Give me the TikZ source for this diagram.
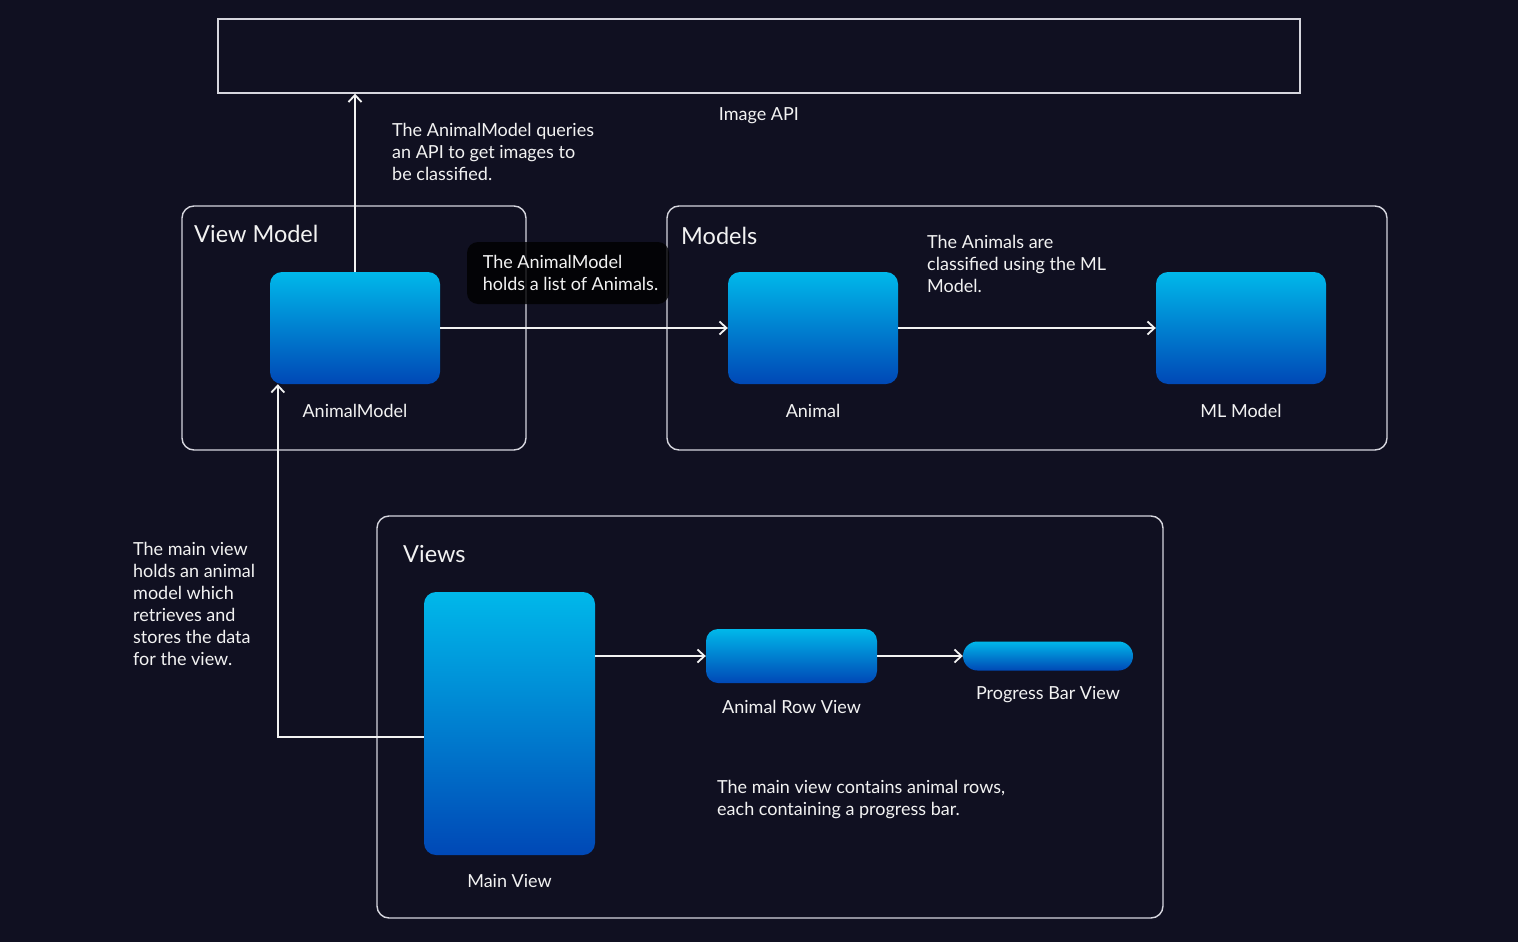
\documentclass[tikz,border=0pt]{standalone}
\usepackage{fontspec}
\setmainfont{Lato}
\usetikzlibrary{arrows.meta,calc}
\definecolor{bg}{HTML}{101021}
\definecolor{ctop}{HTML}{00B8EA}
\definecolor{cbot}{HTML}{0048B6}
\definecolor{edge}{HTML}{D6D6DE}
\definecolor{txt}{HTML}{F2F2F2}
\begin{document}
\begin{tikzpicture}[x=1pt,y=-1pt,
  container/.style={draw=edge,line width=1.4pt,rounded corners=12pt,inner sep=0pt},
  plainbox/.style={draw=edge,line width=1.4pt,inner sep=0pt},
  bluebox/.style={rounded corners=12pt,top color=ctop,bottom color=cbot,draw=none,inner sep=0pt},
  arr/.style={draw=txt,line width=1.8pt,-{Straight Barb[length=7pt,width=13pt]}},
  title/.style={text=txt,font=\fontsize{23.5}{28}\selectfont,anchor=base west,inner sep=0pt},
  lbl/.style={text=txt,font=\fontsize{18}{22}\selectfont,anchor=base,inner sep=0pt},
  note/.style={text=txt,font=\fontsize{18}{22}\selectfont,anchor=north west,align=left,inner sep=0pt},
  tipbox/.style={fill=black,fill opacity=0.8,text opacity=1,text=txt,rounded corners=11pt,
    font=\fontsize{18}{22}\selectfont,align=left,inner sep=0pt}
]
\fill[bg] (0,0) rectangle (1518,942);
\useasboundingbox (0,0) rectangle (1518,942);

% containers
\node[plainbox,minimum width=1082,minimum height=74] (api) at (759,56) {};
\node[lbl] (apil) at (759,120) {Image API};
\node[container,minimum width=344,minimum height=244] (vm) at (354,328) {};
\node[title] (vmt) at (194,242) {View Model};
\node[container,minimum width=720,minimum height=244] (mods) at (1027,328) {};
\node[title] (modst) at (681,244) {Models};
\node[container,minimum width=786,minimum height=402] (views) at (770,717) {};
\node[title] (viewst) at (403,562) {Views};

% blue boxes
\node[bluebox,minimum width=170,minimum height=112] (am) at (355,328) {};
\node[bluebox,minimum width=170,minimum height=112] (an) at (813,328) {};
\node[bluebox,minimum width=170,minimum height=112] (ml) at (1241,328) {};
\node[bluebox,minimum width=171,minimum height=263] (mv) at (509.5,723.5) {};
\node[bluebox,minimum width=171,minimum height=54] (row) at (791.5,656) {};
\node[bluebox,rounded corners=14.5pt,minimum width=170,minimum height=29] (pb) at (1048,656) {};

% labels
\node[lbl] (aml) at (355,417) {AnimalModel};
\node[lbl] (anl) at (813,417) {Animal};
\node[lbl] (mll) at (1241,417) {ML Model};
\node[lbl] (mvl) at (509.5,887) {Main View};
\node[lbl] (rowl) at (791.5,713) {Animal Row View};
\node[lbl] (pbl) at (1048,699) {Progress Bar View};

% notes
\node[note] (n1) at (392,123) {The AnimalModel queries\\an API to get images to\\be classified.};
\node[note] (n2) at (927,235) {The Animals are\\classified using the ML\\Model.};
\node[note] (n3) at (133,542) {The main view\\holds an animal\\model which\\retrieves and\\stores the data\\for the view.};
\node[note] (n4) at (717,780) {The main view contains animal rows,\\each containing a progress bar.};

% connectors
\draw[arr] (am.north) -- (am.north |- api.south);
\draw[arr] (am.east) -- (an.west);
\draw[arr] (an.east) -- (ml.west);
\draw[arr] (mv.east |- row.west) -- (row.west);
\draw[arr] (row.east) -- (pb.west);
\draw[arr] ([yshift=-13.5pt]mv.west) -| ([xshift=8pt]am.south west);

% tooltip
\node[tipbox,minimum width=202,minimum height=62] (tip) at (568,273) {\hspace*{5pt}The AnimalModel\\\hspace*{5pt}holds a list of Animals.};
\end{tikzpicture}
\end{document}
